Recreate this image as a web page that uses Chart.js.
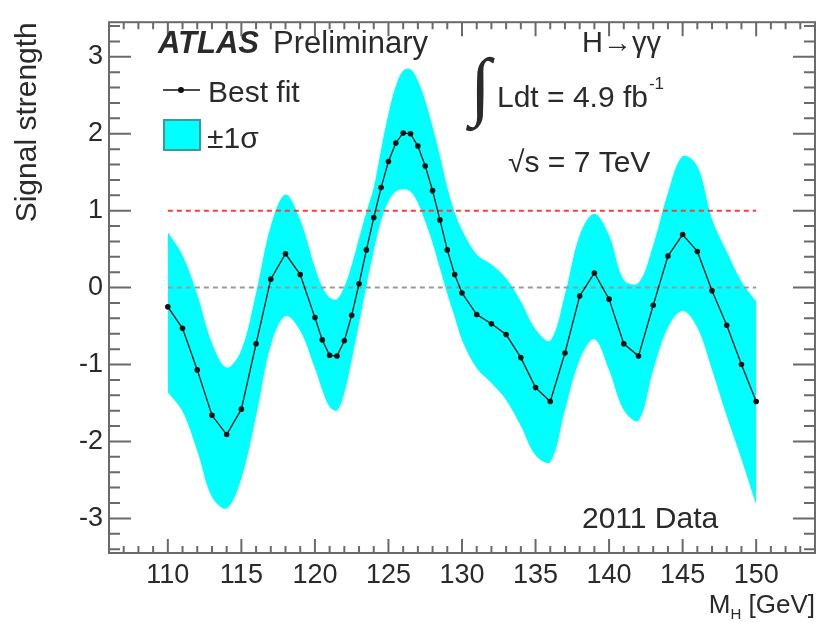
<!DOCTYPE html>
<html>
<head>
<meta charset="utf-8">
<script src="https://cdn.jsdelivr.net/npm/chart.js@4"></script>
<style>
  body { margin: 0; background: #fff; }
  canvas { display: block; }
</style>
</head>
<body>
<canvas id="signalChart" width="820" height="623"></canvas>
<script>
// Higgs mass hypotheses (GeV) - finer steps around the excess
let massPoints = [110, 111, 112, 113, 114, 115, 116, 117, 118, 119, 120,
    120.5, 121, 121.5, 122, 122.5, 123, 123.5, 124, 124.5, 125,
    125.5, 126, 126.5, 127, 127.5, 128, 128.5, 129, 129.5, 130,
    131, 132, 133, 134, 135, 136, 137, 138, 139, 140,
    141, 142, 143, 144, 145, 146, 147, 148, 149, 150]

let bestFit = [-0.25, -0.53, -1.07, -1.66, -1.91, -1.58, -0.73, 0.11, 0.44, 0.17, -0.39,
    -0.68, -0.88, -0.89, -0.69, -0.36, 0.05, 0.49, 0.91, 1.30, 1.64,
    1.88, 2.01, 2.00, 1.84, 1.58, 1.26, 0.88, 0.49, 0.17, -0.07,
    -0.35, -0.47, -0.61, -0.91, -1.30, -1.48, -0.85, -0.11, 0.19, -0.15,
    -0.73, -0.89, -0.23, 0.41, 0.69, 0.47, -0.04, -0.49, -1.00, -1.48]

let bandUp = [0.72, 0.42, -0.09, -0.72, -1.04, -0.81, -0.07, 0.80, 1.21, 0.88, 0.26,
    0.01, -0.13, -0.15, 0.01, 0.29, 0.64, 0.98, 1.30, 1.80, 2.26,
    2.62, 2.82, 2.84, 2.69, 2.43, 2.09, 1.71, 1.30, 0.98, 0.75,
    0.43, 0.30, 0.12, -0.18, -0.54, -0.69, -0.09, 0.68, 0.96, 0.68,
    0.10, 0.06, 0.55, 1.23, 1.71, 1.58, 0.89, 0.47, 0.08, -0.18]

let bandDown = [-1.36, -1.61, -2.12, -2.72, -2.87, -2.48, -1.67, -0.75, -0.37, -0.56, -1.05,
    -1.33, -1.55, -1.60, -1.37, -0.94, -0.47, 0.02, 0.48, 0.87, 1.12,
    1.25, 1.28, 1.25, 1.10, 0.86, 0.58, 0.25, -0.08, -0.38, -0.68,
    -1.05, -1.24, -1.46, -1.80, -2.18, -2.27, -1.59, -0.94, -0.67, -1.07,
    -1.59, -1.73, -1.07, -0.52, -0.30, -0.52, -1.07, -1.67, -2.23, -2.82]

// reference lines: SM expectation (mu = 1) and background only (mu = 0)
let refRange = [110, 150]
let smLevel = 1
let bkgLevel = 0

let xTickLabels = [110, 115, 120, 125, 130, 135, 140, 145, 150]
let yTickLabels = [-3, -2, -1, 0, 1, 2, 3]

const fontFamily = '"Liberation Sans", Arial, Helvetica, sans-serif';
const textColour = '#2a2a2a';

let toPoints = (ys) => massPoints.map((m, i) => ({x: m, y: ys[i]}));

// Frame with ROOT-style inward ticks on all four sides
let frameTicks = {
    id: 'frameTicks',
    afterDatasetsDraw: (chart) => {
        let {ctx, chartArea: a, scales: {x, y}} = chart;
        ctx.save();
        ctx.strokeStyle = '#6a6a6a';
        ctx.lineWidth = 2;
        ctx.beginPath();
        for (let v = Math.ceil(x.min); v <= x.max; v++) {
            let px = x.getPixelForValue(v);
            let len = v % 5 === 0 ? 14 : 7;
            ctx.moveTo(px, a.bottom); ctx.lineTo(px, a.bottom - len);
            ctx.moveTo(px, a.top); ctx.lineTo(px, a.top + len);
        }
        for (let i = Math.ceil(y.min * 5); i <= y.max * 5; i++) {
            let py = y.getPixelForValue(i / 5);
            let len = i % 5 === 0 ? 22 : 11;
            ctx.moveTo(a.left, py); ctx.lineTo(a.left + len, py);
            ctx.moveTo(a.right, py); ctx.lineTo(a.right - len, py);
        }
        ctx.stroke();
        ctx.strokeRect(a.left, a.top, a.right - a.left, a.bottom - a.top);
        ctx.restore();
    }
};

// Legend, experiment label and run conditions
let annotations = {
    id: 'annotations',
    afterDraw: (chart) => {
        let ctx = chart.ctx;
        ctx.save();
        ctx.fillStyle = textColour;
        ctx.textBaseline = 'alphabetic';
        ctx.textAlign = 'left';

        ctx.font = 'italic bold 31px ' + fontFamily;
        ctx.fillText('ATLAS', 158, 53);
        ctx.font = '31px ' + fontFamily;
        ctx.fillText('Preliminary', 273, 53);

        // legend: best fit
        ctx.strokeStyle = '#111';
        ctx.lineWidth = 1.5;
        ctx.beginPath();
        ctx.moveTo(163, 90); ctx.lineTo(200, 90);
        ctx.stroke();
        ctx.fillStyle = '#111';
        ctx.beginPath();
        ctx.arc(181, 90, 3, 0, Math.PI * 2);
        ctx.fill();
        ctx.fillStyle = textColour;
        ctx.font = '30px ' + fontFamily;
        ctx.fillText('Best fit', 208, 102);

        // legend: band
        ctx.fillStyle = '#00ffff';
        ctx.fillRect(164, 120, 36, 30);
        ctx.strokeStyle = '#3d9a9a';
        ctx.lineWidth = 2;
        ctx.strokeRect(164, 120, 36, 30);
        ctx.fillStyle = textColour;
        ctx.fillText('\u00b11\u03c3', 207, 148);

        ctx.font = '29px ' + fontFamily;
        ctx.fillText('H\u2192\u03b3\u03b3', 582, 52);

        ctx.font = '76px "Liberation Serif", "DejaVu Serif", serif';
        ctx.fillText('\u222b', 470, 111);
        ctx.font = '30px ' + fontFamily;
        let lumi = 'Ldt = 4.9 fb';
        ctx.fillText(lumi, 497, 107);
        let lumiEnd = 497 + ctx.measureText(lumi).width;
        ctx.font = '17px ' + fontFamily;
        ctx.fillText('-1', lumiEnd + 1, 89);

        ctx.font = '30px ' + fontFamily;
        ctx.fillText('\u221as = 7 TeV', 508, 172);
        ctx.fillText('2011 Data', 582, 528);

        // x axis title with subscript, right aligned at frame end
        let right = chart.chartArea.right;
        ctx.font = '26px ' + fontFamily;
        let tail = ' [GeV]';
        let wTail = ctx.measureText(tail).width;
        ctx.font = '15px ' + fontFamily;
        let wSub = ctx.measureText('H').width;
        ctx.font = '26px ' + fontFamily;
        let wM = ctx.measureText('M').width;
        let x0 = right - wTail - wSub - wM;
        ctx.fillText('M', x0, 613);
        ctx.fillText(tail, x0 + wM + wSub, 613);
        ctx.font = '15px ' + fontFamily;
        ctx.fillText('H', x0 + wM, 619);
        ctx.restore();
    }
};

let context = document.getElementById('signalChart').getContext('2d');
window.signalChart = new Chart(context, {
    type: 'line',
    data: {
        datasets: [{
            label: 'band low',
            data: toPoints(bandDown),
            borderWidth: 0,
            borderColor: 'rgba(0,0,0,0)',
            pointRadius: 0,
            tension: 0.35,
            fill: false,
            order: 4
        }, {
            label: '\u00b11\u03c3',
            data: toPoints(bandUp),
            borderWidth: 0,
            borderColor: 'rgba(0,0,0,0)',
            backgroundColor: '#00ffff',
            pointRadius: 0,
            tension: 0.35,
            fill: '-1',
            order: 3
        }, {
            label: 'mu = 1',
            data: refRange.map(m => ({x: m, y: smLevel})),
            borderColor: '#ff3b3b',
            borderWidth: 2,
            borderDash: [5, 4],
            pointRadius: 0,
            fill: false,
            order: 2
        }, {
            label: 'mu = 0',
            data: refRange.map(m => ({x: m, y: bkgLevel})),
            borderColor: '#9a9a9a',
            borderWidth: 2,
            borderDash: [5, 4],
            pointRadius: 0,
            fill: false,
            order: 1
        }, {
            label: 'Best fit',
            data: toPoints(bestFit),
            borderColor: '#111',
            borderWidth: 1.3,
            pointRadius: 2.8,
            pointBackgroundColor: '#111',
            pointBorderWidth: 0,
            tension: 0,
            fill: false,
            order: 0
        }]
    },
    options: {
        responsive: false,
        animation: false,
        layout: {padding: {top: 14, right: 5, left: 0, bottom: 0}},
        plugins: {
            legend: {display: false},
            tooltip: {enabled: false}
        },
        scales: {
            x: {
                type: 'linear',
                min: 106,
                max: 154,
                grid: {display: false, drawTicks: false},
                border: {display: false},
                afterBuildTicks: (scale) => { scale.ticks = xTickLabels.map(v => ({value: v})); },
                afterFit: (scale) => { scale.height = 70; },
                ticks: {
                    color: textColour,
                    padding: 6,
                    maxRotation: 0,
                    font: {family: fontFamily, size: 27}
                }
            },
            y: {
                type: 'linear',
                min: -3.45,
                max: 3.45,
                grid: {display: false, drawTicks: false},
                border: {display: false},
                afterBuildTicks: (scale) => { scale.ticks = yTickLabels.map(v => ({value: v})); },
                afterFit: (scale) => { scale.width = 109; },
                title: {
                    display: true,
                    text: 'Signal strength',
                    align: 'end',
                    color: textColour,
                    padding: {top: 10, bottom: 0},
                    font: {family: fontFamily, size: 30}
                },
                ticks: {
                    color: textColour,
                    padding: 6,
                    font: {family: fontFamily, size: 27}
                }
            }
        }
    },
    plugins: [frameTicks, annotations]
});
</script>
</body>
</html>
